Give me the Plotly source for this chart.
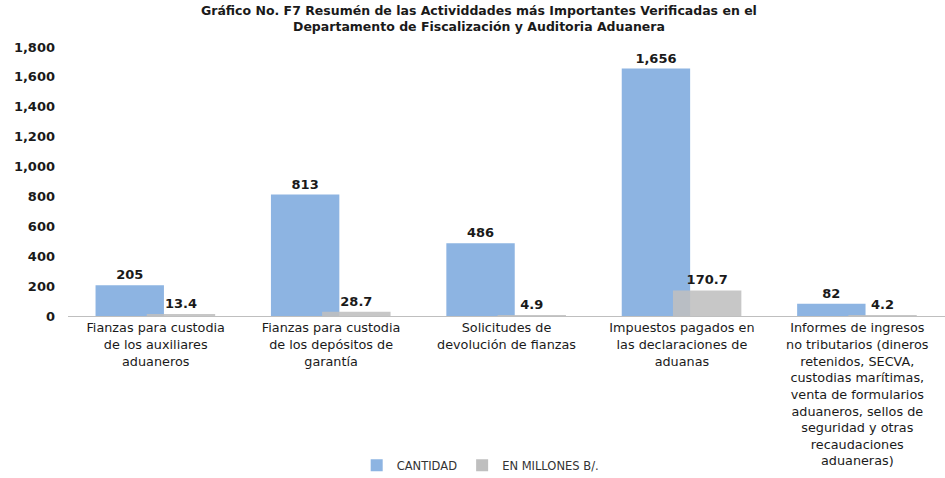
import plotly.graph_objects as go

categories = [
    "Fianzas para custodia<br>de los auxiliares<br>aduaneros",
    "Fianzas para custodia<br>de los depósitos de<br>garantía",
    "Solicitudes de<br>devolución de fianzas",
    "Impuestos pagados en<br>las declaraciones de<br>aduanas",
    "Informes de ingresos<br>no tributarios (dineros<br>retenidos, SECVA,<br>custodias marítimas,<br>venta de formularios<br>aduaneros, sellos de<br>seguridad y otras<br>recaudaciones<br>aduaneras)",
]
cantidad = [205, 813, 486, 1656, 82]
millones = [13.4, 28.7, 4.9, 170.7, 4.2]
y_ticks = [0, 200, 400, 600, 800, 1000, 1200, 1400, 1600, 1800]
title_text = ("Gráfico No. F7 Resumén de las Actividdades más Importantes Verificadas en el<br>"
              "Departamento de Fiscalización y Auditoria Aduanera")

pos = list(range(len(categories)))
FONT = "DejaVu Sans, Verdana, sans-serif"

fig = go.Figure()
fig.add_trace(go.Bar(
    x=pos, y=cantidad, name="CANTIDAD",
    width=0.39, offset=-0.343,
    marker=dict(color="#8DB4E2", line=dict(width=0)),
    texttemplate="%{y:,.0f}", textposition="outside",
    textfont=dict(family=FONT, size=13, color="#1a1a1a", weight="bold"),
    cliponaxis=False,
))
fig.add_trace(go.Bar(
    x=pos, y=millones, name="EN MILLONES B/.",
    width=0.39, offset=-0.051,
    marker=dict(color="#BFBFBF", line=dict(width=0), opacity=0.88),
    texttemplate="%{y:.1f}", textposition="outside",
    textfont=dict(family=FONT, size=13, color="#1a1a1a", weight="bold"),
    cliponaxis=False,
))

fig.update_layout(
    width=945, height=478,
    barmode="overlay",
    plot_bgcolor="white", paper_bgcolor="white",
    margin=dict(l=68, r=0, t=47, b=162, autoexpand=False),
    font=dict(family=FONT, color="#1a1a1a"),
    showlegend=True,
    legend=dict(
        orientation="h", x=0.47, xanchor="center", y=-0.555, yanchor="middle",
        font=dict(family=FONT, size=11.5, color="#333333"),
        itemwidth=30, traceorder="normal",
    ),
    annotations=[dict(
        text=title_text, xref="paper", yref="paper", x=0.469, y=1,
        xanchor="center", yanchor="bottom", yshift=11, showarrow=False,
        font=dict(family=FONT, size=12.5, color="#1a1a1a", weight="bold"),
    )],
)
fig.update_xaxes(
    tickmode="array", tickvals=pos, ticktext=categories,
    range=[-0.5, 4.5], showgrid=False, showline=True, automargin=False,
    linecolor="#BFBFBF", linewidth=1, ticks="", tickangle=0,
    tickfont=dict(family=FONT, size=12.8, color="#1a1a1a"),
)
fig.update_yaxes(
    range=[0, 1800], tickmode="array", tickvals=y_ticks, automargin=False,
    tickformat=",d", showgrid=False, zeroline=False, showline=False,
    tickfont=dict(family=FONT, size=13, color="#1a1a1a", weight="bold"),
    ticklabelstandoff=12,
)

fig.write_html("out.html", config={"displayModeBar": False},
               post_script="document.body.style.margin='0';")
